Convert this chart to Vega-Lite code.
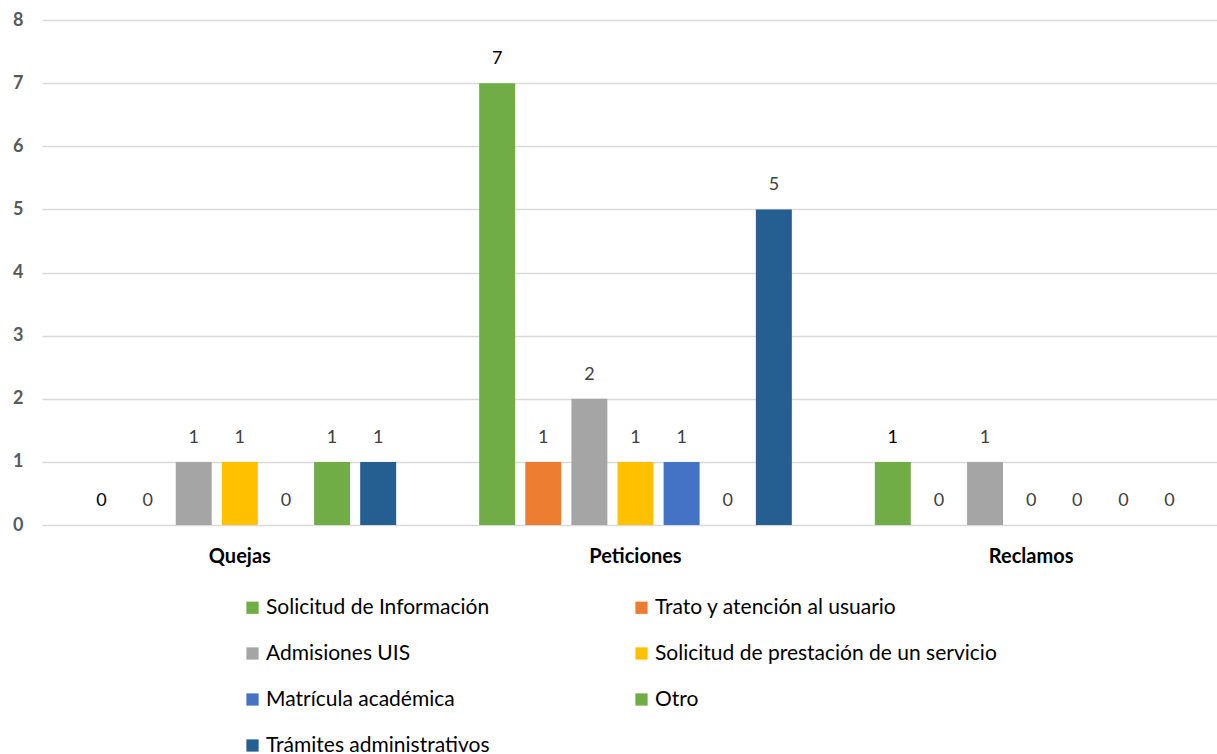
{
  "$schema": "https://vega.github.io/schema/vega-lite/v6.json",
  "autosize": {"type": "none"},
  "padding": {"left": 42, "top": 20, "right": 0, "bottom": 229},
  "width": 1175,
  "height": 505,
  "background": "white",
  "config": {"view": {"stroke": null}, "font": "Lato"},
  "data": {"values": [
    {"cat": "Quejas", "serie": "Solicitud de Información", "v": 0},
    {"cat": "Quejas", "serie": "Trato y atención al usuario", "v": 0},
    {"cat": "Quejas", "serie": "Admisiones UIS", "v": 1},
    {"cat": "Quejas", "serie": "Solicitud de prestación de un servicio", "v": 1},
    {"cat": "Quejas", "serie": "Matrícula académica", "v": 0},
    {"cat": "Quejas", "serie": "Otro", "v": 1},
    {"cat": "Quejas", "serie": "Trámites administrativos", "v": 1},
    {"cat": "Peticiones", "serie": "Solicitud de Información", "v": 7},
    {"cat": "Peticiones", "serie": "Trato y atención al usuario", "v": 1},
    {"cat": "Peticiones", "serie": "Admisiones UIS", "v": 2},
    {"cat": "Peticiones", "serie": "Solicitud de prestación de un servicio", "v": 1},
    {"cat": "Peticiones", "serie": "Matrícula académica", "v": 1},
    {"cat": "Peticiones", "serie": "Otro", "v": 0},
    {"cat": "Peticiones", "serie": "Trámites administrativos", "v": 5},
    {"cat": "Reclamos", "serie": "Solicitud de Información", "v": 1},
    {"cat": "Reclamos", "serie": "Trato y atención al usuario", "v": 0},
    {"cat": "Reclamos", "serie": "Admisiones UIS", "v": 1},
    {"cat": "Reclamos", "serie": "Solicitud de prestación de un servicio", "v": 0},
    {"cat": "Reclamos", "serie": "Matrícula académica", "v": 0},
    {"cat": "Reclamos", "serie": "Otro", "v": 0},
    {"cat": "Reclamos", "serie": "Trámites administrativos", "v": 0}
  ]},
  "encoding": {
    "x": {
      "field": "cat", "type": "nominal", "sort": ["Quejas", "Peticiones", "Reclamos"],
      "scale": {"range": [0, 1187], "paddingInner": 0, "paddingOuter": 0},
      "axis": {"title": null, "labelAngle": 0, "labelFont": "Lato", "labelFontSize": 20, "labelFontWeight": "bold", "labelColor": "#000000", "labelPadding": 21, "ticks": false, "domain": false, "grid": false}
    },
    "xOffset": {
      "field": "serie", "type": "nominal",
      "sort": ["Solicitud de Información", "Trato y atención al usuario", "Admisiones UIS", "Solicitud de prestación de un servicio", "Matrícula académica", "Otro", "Trámites administrativos"],
      "scale": {"paddingInner": 0.22, "paddingOuter": 0.9}
    },
    "y": {
      "field": "v", "type": "quantitative",
      "scale": {"domain": [0, 8], "nice": false},
      "axis": {"title": null, "values": [0, 1, 2, 3, 4, 5, 6, 7, 8], "labelOverlap": false, "labelFont": "Lato", "labelFontSize": 18, "labelFontWeight": "bold", "labelColor": "#595959", "labelPadding": 19, "ticks": false, "domain": false, "gridColor": "#d9d9d9", "gridWidth": 1.5}
    }
  },
  "layer": [
    {
      "mark": {"type": "bar"},
      "encoding": {
        "color": {
          "field": "serie", "type": "nominal",
          "sort": ["Solicitud de Información", "Trato y atención al usuario", "Admisiones UIS", "Solicitud de prestación de un servicio", "Matrícula académica", "Otro", "Trámites administrativos"],
          "scale": {
            "domain": ["Solicitud de Información", "Trato y atención al usuario", "Admisiones UIS", "Solicitud de prestación de un servicio", "Matrícula académica", "Otro", "Trámites administrativos"],
            "range": ["#70ad47", "#ed7d31", "#a5a5a5", "#ffc000", "#4472c4", "#70ad47", "#255e91"]
          },
          "legend": {
            "title": null, "orient": "none", "legendX": 200, "legendY": 577,
            "direction": "horizontal", "columns": 2, "gridAlign": "all", "columnPadding": 23,
            "rowPadding": 24, "symbolType": "square", "symbolSize": 150, "symbolStrokeWidth": 0,
            "symbolOpacity": 1, "labelFont": "Lato", "labelFontSize": 21, "labelColor": "#000000",
            "labelLimit": 600, "labelOffset": 3
          }
        }
      }
    },
    {
      "mark": {"type": "text", "baseline": "bottom", "dy": -15, "font": "Lato", "fontSize": 18},
      "encoding": {
        "text": {"field": "v", "type": "quantitative"},
        "color": {
          "condition": {"test": "datum.serie === 'Solicitud de Información'", "value": "#000000"},
          "value": "#404040"
        }
      }
    }
  ]
}
